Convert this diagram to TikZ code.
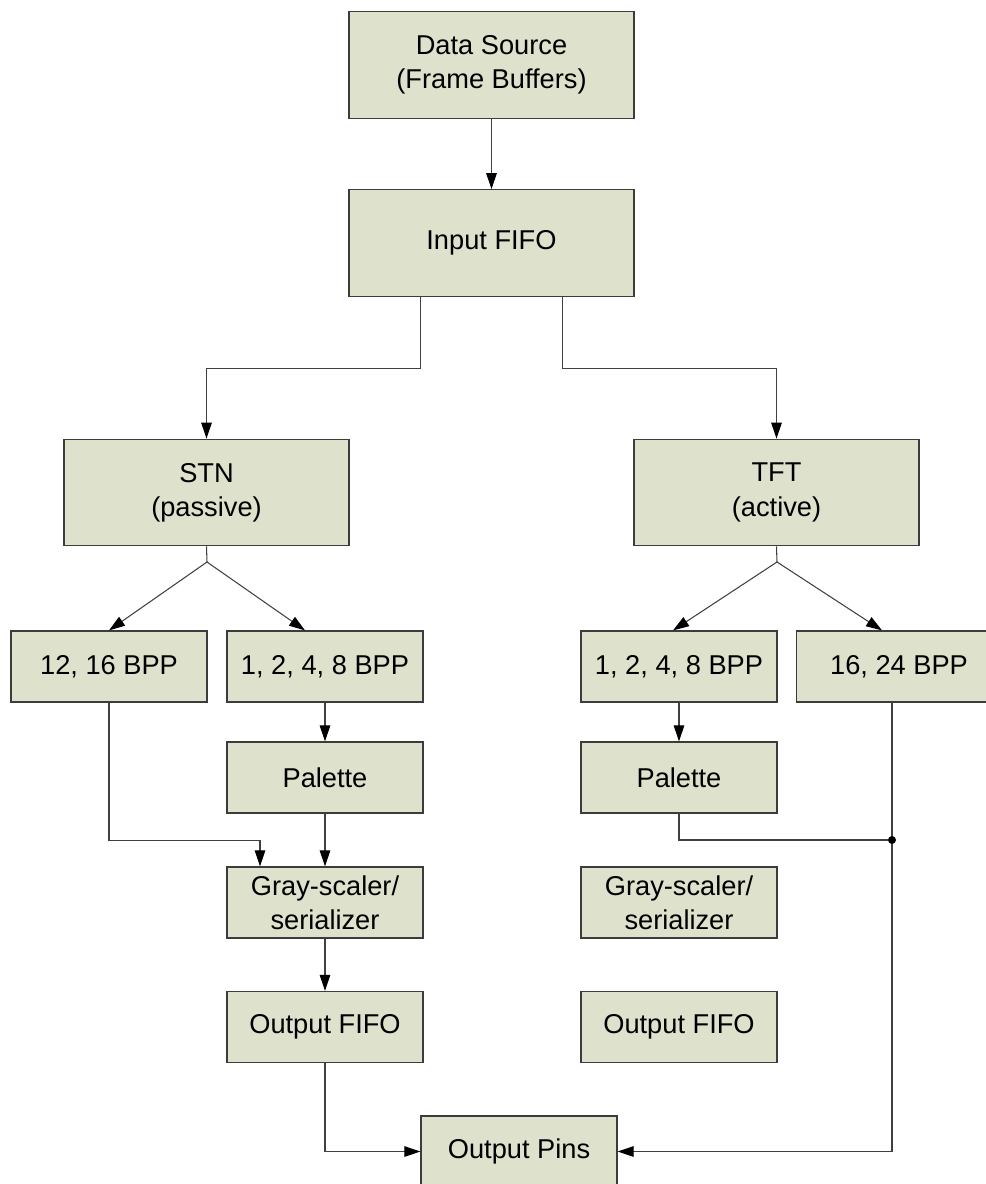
\documentclass[tikz,border=0pt]{standalone}
\usepackage{fontspec}
\setmainfont{Liberation Sans}
\usetikzlibrary{arrows.meta}
\definecolor{boxfill}{HTML}{DEE1CB}
\definecolor{boxline}{HTML}{3C3C3C}
\definecolor{wire}{HTML}{404040}
\begin{document}
\begin{tikzpicture}[
x=0.02cm, y=-0.02cm,
>={Triangle[length=3.2mm,width=2.1mm,color=black]},
blk/.style={
draw=boxline,
fill=boxfill,
line width=0.7pt,
minimum width=3.92cm,
minimum height=1.42cm,
align=center,
inner sep=0pt,
font=\fontsize{15.5}{19.5}\selectfont
},
bigblk/.style={
blk,
minimum width=5.7cm,
minimum height=2.13cm
},
wire/.style={draw=wire, line width=0.6pt}
]
\useasboundingbox (0,0) rectangle (985,1184);
\node[bigblk] (src) at (491.5,65) {Data Source\\(Frame Buffers)};
\node[bigblk] (infifo) at (491.5,243) {Input FIFO};
\node[bigblk] (stn) at (206.5,492.5) {STN\\(passive)};
\node[bigblk] (tft) at (776.5,492.5) {TFT\\(active)};
% STN side
\node[blk] (b1216) at (109,666.5) {12, 16 BPP};
\node[blk] (slow) at (325,666.5) {1, 2, 4, 8 BPP};
\node[blk] (spal) at (325,777.5) {Palette};
\node[blk] (sgray) at (325,902.5) {Gray-scaler/\\serializer};
\node[blk] (sout) at (325,1027) {Output FIFO};
% TFT side
\node[blk] (tlow) at (679,666.5) {1, 2, 4, 8 BPP};
\node[blk, minimum width=4.1cm] (b1624) at (899,666.5) {16, 24 BPP};
\node[blk] (tpal) at (679,777.5) {Palette};
\node[blk] (tgray) at (679,902.5) {Gray-scaler/\\serializer};
\node[blk] (tout) at (679,1027) {Output FIFO};
\node[blk] (pins) at (519,1151.5) {Output Pins};
\coordinate (stnfork) at (207,562);
\coordinate (tftfork) at (777,562);
\coordinate (tjoin) at (892,840);
\draw[wire,->] (src) -- (infifo);
\draw[wire,->] ([xshift=-1.42cm]infifo.south) -- ++(0,72) -| (stn.north);
\draw[wire,->] ([xshift=1.42cm]infifo.south) -- ++(0,72) -| (tft.north);
\draw[wire] (stn.south) -- (stnfork);
\draw[wire,->] (stnfork) -- (b1216.north);
\draw[wire,->] (stnfork) -- ([xshift=-0.4cm]slow.north);
\draw[wire] (tft.south) -- (tftfork);
\draw[wire,->] (tftfork) -- ([xshift=-0.12cm]tlow.north);
\draw[wire,->] (tftfork) -- ([xshift=-0.34cm]b1624.north);
\draw[wire,->] (b1216.south) -- ++(0,138) -| ([xshift=-1.3cm]sgray.north);
\draw[wire,->] (slow) -- (spal);
\draw[wire,->] (spal) -- (sgray);
\draw[wire,->] (sgray) -- (sout);
\draw[wire,->] (sout.south) |- (pins.west);
\draw[wire,->] (tlow) -- (tpal);
\draw[wire] (tpal.south) |- (tjoin);
\draw[wire,->] (tjoin |- b1624.south) |- (pins.east);
\fill[black] (tjoin) circle (0.08cm);
\end{tikzpicture}
\end{document}
